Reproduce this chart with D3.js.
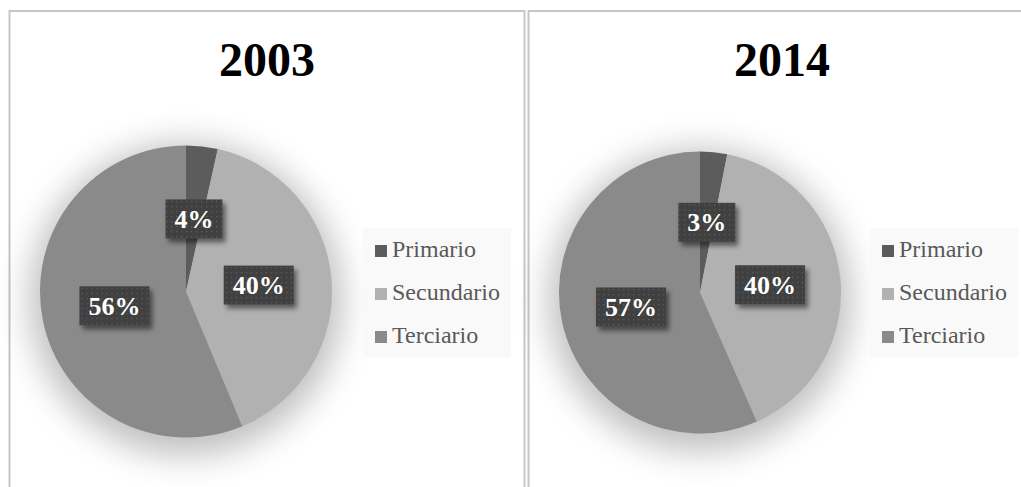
<!DOCTYPE html>
<html><head><meta charset="utf-8">
<script src="https://cdn.jsdelivr.net/npm/d3@7"></script>
<style>html,body{margin:0;padding:0;background:#fff;overflow:hidden}
text{font-family:"Liberation Serif","Times New Roman",Times,serif}</style>
</head><body>
<svg id="chart" width="1021" height="487"></svg>
<script>
// ---- data ----
const categories = ["Primario", "Secundario", "Terciario"];
const years = ["2003", "2014"];
const values2003 = [3.5, 40.2, 56.3];
const values2014 = [3.1, 40.3, 56.6];
const colors = ["#5c5c5c", "#b1b1b1", "#8a8a8a"];

// ---- layout ----
const panels = [
  {title: years[0], values: values2003, x0: 9.5, x1: 524.5, cx: 186, cy: 291.5, r: 146, lx: 363, titleX: 267},
  {title: years[1], values: values2014, x0: 528.5, x1: 1050, cx: 700, cy: 292.5, r: 141, lx: 870, titleX: 782}
];
const FONT = "'Liberation Serif', 'Times New Roman', Times, serif";

const svg = d3.select("#chart");
const defs = svg.append("defs");
const pf = defs.append("filter").attr("id", "pieShadow")
  .attr("x", "-50%").attr("y", "-50%").attr("width", "200%").attr("height", "200%");
pf.append("feGaussianBlur").attr("stdDeviation", 17);

const bf = defs.append("filter").attr("id", "boxShadow")
  .attr("x", "-30%").attr("y", "-30%").attr("width", "160%").attr("height", "160%");
bf.append("feGaussianBlur").attr("in", "SourceAlpha").attr("stdDeviation", 2.5).attr("result", "b");
bf.append("feOffset").attr("in", "b").attr("dx", 3).attr("dy", 4).attr("result", "o");
bf.append("feComponentTransfer").attr("in", "o").attr("result", "o2")
  .append("feFuncA").attr("type", "linear").attr("slope", 0.5);
const mg = bf.append("feMerge");
mg.append("feMergeNode").attr("in", "o2");
mg.append("feMergeNode").attr("in", "SourceGraphic");

const pat = defs.append("pattern").attr("id", "dots")
  .attr("width", 5).attr("height", 5).attr("patternUnits", "userSpaceOnUse");
pat.append("rect").attr("width", 5).attr("height", 5).attr("fill", "#404040");
pat.append("rect").attr("x", 2).attr("y", 2).attr("width", 1.3).attr("height", 1.3).attr("fill", "#5e5e5e");

const color = d3.scaleOrdinal().domain(categories).range(colors);
const pie = d3.pie().sort(null).value(d => d.v);

panels.forEach(p => {
  const g = svg.append("g");
  g.append("rect").attr("x", p.x0).attr("y", 11).attr("width", p.x1 - p.x0).attr("height", 600)
    .attr("fill", "#fff").attr("stroke", "#c6c6c6").attr("stroke-width", 2);

  g.append("text").attr("x", p.titleX).attr("y", 76).attr("text-anchor", "middle")
    .style("font-family", FONT).attr("font-weight", "bold")
    .attr("font-size", 48).attr("fill", "#000").text(p.title);

  g.append("circle").attr("cx", p.cx).attr("cy", p.cy + 8).attr("r", p.r + 10)
    .attr("fill", "#000").attr("opacity", 0.25).attr("filter", "url(#pieShadow)");

  const data = pie(categories.map((c, i) => ({c, v: p.values[i]})));
  const arc = d3.arc().innerRadius(0).outerRadius(p.r);
  const pg = g.append("g").attr("transform", `translate(${p.cx},${p.cy})`);
  pg.selectAll("path").data(data).join("path")
    .attr("d", arc).attr("fill", d => color(d.data.c));

  const fmt = v => Math.round(v) + "%";
  const lg = pg.selectAll("g.lbl").data(data).join("g").attr("class", "lbl")
    .attr("transform", d => { const [x, y] = arc.centroid(d); return `translate(${x},${y})`; });
  lg.each(function(d) {
    const sel = d3.select(this);
    const t = sel.append("text").attr("text-anchor", "middle").attr("y", 9)
      .style("font-family", FONT).attr("font-weight", "bold")
      .attr("font-size", 26).attr("fill", "#fff").text(fmt(d.data.v));
    const w = t.node().getComputedTextLength() + 18;
    sel.insert("rect", "text").attr("x", -w / 2).attr("y", -19.5).attr("width", w).attr("height", 39)
      .attr("fill", "url(#dots)").attr("filter", "url(#boxShadow)");
  });

  const leg = g.append("g").attr("transform", `translate(${p.lx},228)`);
  leg.append("rect").attr("width", 148).attr("height", 129).attr("fill", "#f9f9f9");
  const items = leg.selectAll("g.it").data(categories).join("g").attr("class", "it")
    .attr("transform", (d, i) => `translate(12,${29 + i * 43})`);
  items.append("rect").attr("x", 0).attr("y", -12).attr("width", 12).attr("height", 12)
    .attr("fill", d => color(d));
  items.append("text").attr("x", 17).attr("y", 0)
    .style("font-family", FONT).attr("font-size", 24)
    .attr("fill", "#595959").text(d => d);
});
</script>
</body></html>
